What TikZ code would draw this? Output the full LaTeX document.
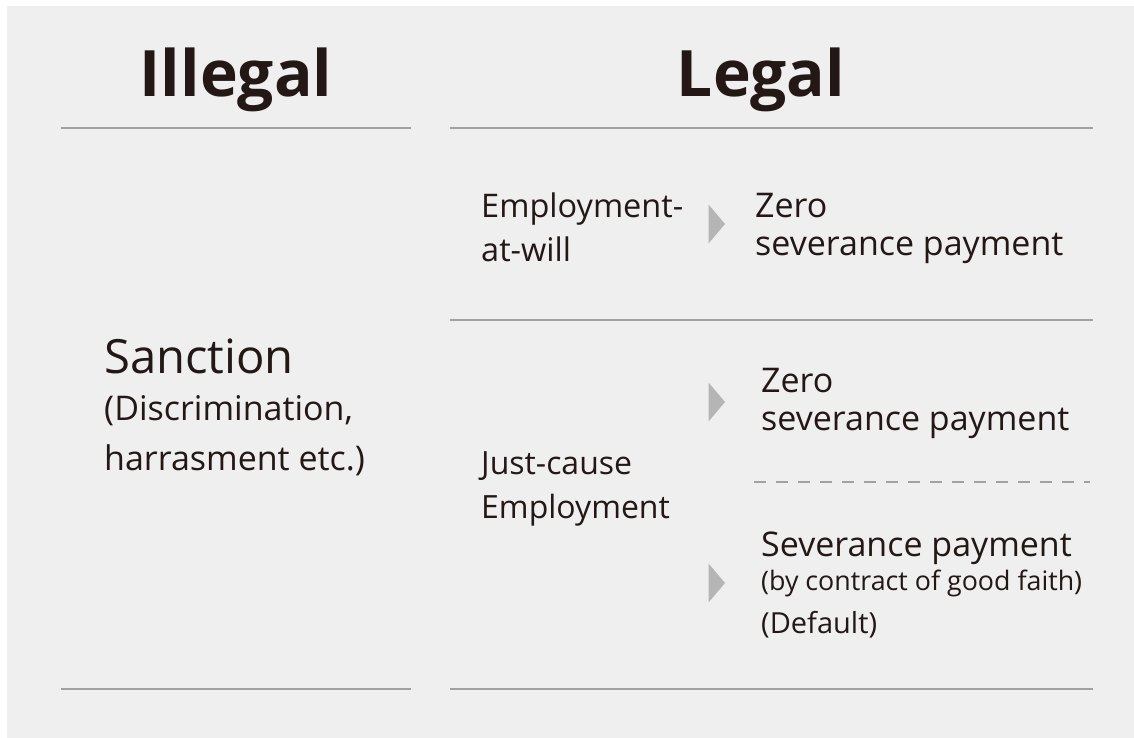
\documentclass[tikz,border=0pt]{standalone}
\usepackage{fontspec}
\setmainfont{Open Sans}
\usepackage{tikz}
\usetikzlibrary{positioning}

\definecolor{bggray}{HTML}{EEEFEE}
\definecolor{rulegray}{HTML}{A0A2A1}
\definecolor{tipgray}{HTML}{B4B5B4}
\definecolor{ink}{HTML}{231815}

\begin{document}
\begin{tikzpicture}[x=1pt, y=-1pt]
    \useasboundingbox (0,0) rectangle (1134,738);
    \fill[bggray] (7,6) rectangle (1134,738);

    % Styles for the rules, the pointers and the texts
    \tikzset{
      rule/.style={line width=2pt, color=rulegray},
      head/.style={anchor=base, inner sep=0pt, color=ink, font=\fontsize{64}{70}\selectfont\bfseries},
      txt/.style={anchor=base west, inner sep=0pt, color=ink, align=left, font=\fontsize{34}{38}\selectfont},
      pointer/.style={fill=tipgray},
    }

    % Column heads
    \node[head] (illegal) at (236,97) {Illegal};
    \node[head] (legal) at (761,97) {Legal};

    % Rules
    \coordinate (lt) at (61,128);
    \coordinate (lt') at (411,128);
    \coordinate (rt) at (450,128);
    \coordinate (rt') at (1093,128);
    \coordinate (rm) at (450,320);
    \coordinate (rm') at (1093,320);
    \coordinate (d) at (754,482);
    \coordinate (d') at (1090,482);
    \coordinate (lb) at (61,689);
    \coordinate (lb') at (411,689);
    \coordinate (rb) at (450,689);
    \coordinate (rb') at (1093,689);
    \draw[rule] (lt) -- (lt');
    \draw[rule] (rt) -- (rt');
    \draw[rule] (rm) -- (rm');
    \draw[rule] (lb) -- (lb');
    \draw[rule] (rb) -- (rb');
    \draw[rule, line width=1.5pt, dash pattern=on 12pt off 10pt] (d) -- (d');

    % Left column (base = last line)
    \node[txt, font=\fontsize{47.2}{52}\selectfont] (sanction) at (104,373) {Sanction};
    \node[txt, font=\fontsize{34}{50}\selectfont] (cases) at (104,470) {(Discrimination,\\harrasment etc.)};

    % Kinds of employment
    \node[txt, font=\fontsize{32.5}{44}\selectfont] (atwill) at (481,261) {Employment-\\at-will};
    \node[txt, font=\fontsize{32}{44}\selectfont] (justcause) at (481,518) {Just-cause\\Employment};

    % Outcomes
    \node[txt] (zero1) at (755,255) {Zero\\severance payment};
    \node[txt] (zero2) at (761,430) {Zero\\severance payment};
    \node[txt] (pay) at (761,556) {Severance payment};
    \node[txt, font=\fontsize{26.8}{30}\selectfont] (faith) at (761,590) {(by contract of good faith)};
    \node[txt, font=\fontsize{29}{34}\selectfont] (default) at (761,633) {(Default)};

    % Pointers
    \foreach \y in {224, 402, 583} {
        \fill[pointer] (708.5,\y-19.5) -- (725,\y) -- (708.5,\y+19.5) -- cycle;
    }
\end{tikzpicture}
\end{document}
